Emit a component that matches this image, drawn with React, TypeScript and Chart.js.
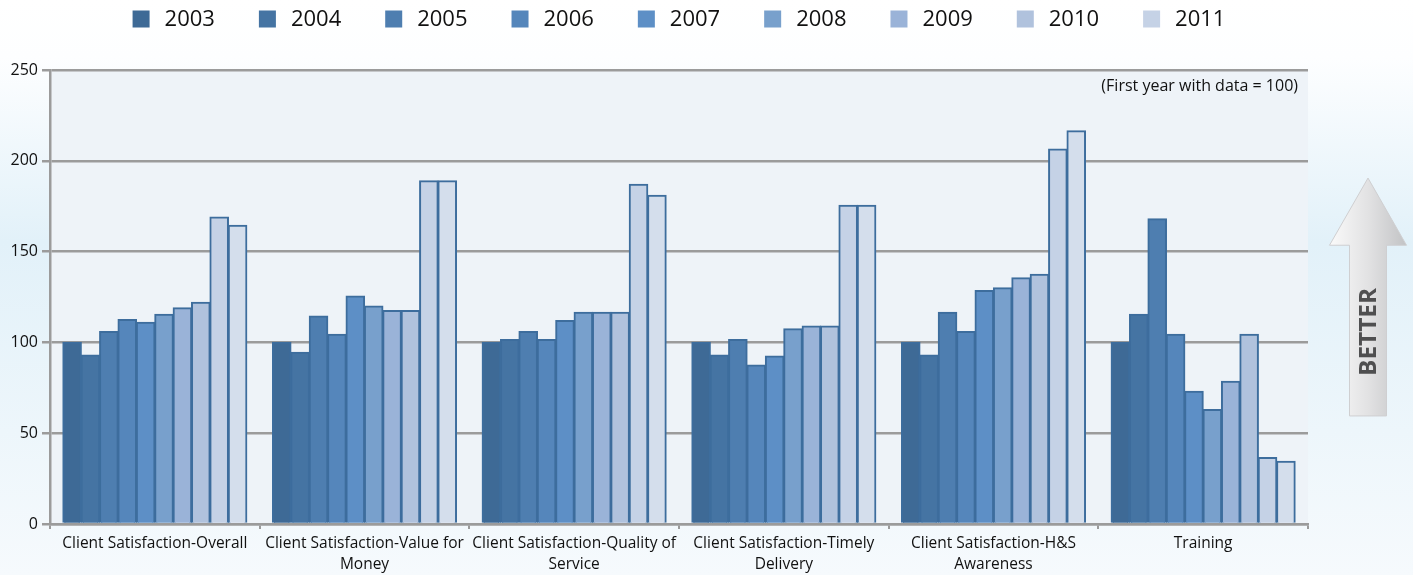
import React, { useEffect, useRef } from 'react';
import { Chart, registerables } from 'chart.js';

Chart.register(...registerables);

const categories: (string | string[])[] = [
  'Client Satisfaction-Overall',
  ['Client Satisfaction-Value for', 'Money'],
  ['Client Satisfaction-Quality of', 'Service'],
  ['Client Satisfaction-Timely', 'Delivery'],
  ['Client Satisfaction-H&S', 'Awareness'],
  'Training',
];

const seriesLabels = ['2003', '2004', '2005', '2006', '2007', '2008', '2009', '2010', '2011', '2012'];
const legendCount = 9;

const s2003 = [100, 100, 100, 100, 100, 100];
const s2004 = [93, 94.5, 101.5, 93, 93, 115.5];
const s2005 = [106, 114.5, 106, 101.5, 116.5, 168];
const s2006 = [112.5, 104.5, 101.5, 87.5, 106, 104.5];
const s2007 = [111, 125.5, 112, 92.5, 128.5, 73];
const s2008 = [115.5, 120, 116.5, 107.5, 130, 63];
const s2009 = [119, 117.5, 116.5, 109, 135.5, 78.5];
const s2010 = [122, 117.5, 116.5, 109, 137.5, 104.5];
const s2011 = [169, 189, 187, 175.5, 206.5, 36.5];
const s2012 = [164.5, 189, 181, 175.5, 216.5, 34.5];
const seriesValues = [s2003, s2004, s2005, s2006, s2007, s2008, s2009, s2010, s2011, s2012];

const seriesColors = ['#3E6A96', '#4574A3', '#4E7EB0', '#5586BB', '#5D8FC6', '#78A0CC', '#9AB3D8', '#B0C2DD', '#C5D2E6', '#D4DEEC'];

const yMin = 0;
const yMax = 250;
const yStep = 50;

const noteText = '(First year with data = 100)';
const arrowText = 'BETTER';

const FONT = '"Open Sans", "DejaVu Sans", sans-serif';

const decorPlugin = {
  id: 'decor',
  beforeDraw(chart: any) {
    const { ctx, width, height, chartArea } = chart;
    ctx.save();
    const g = ctx.createLinearGradient(0, 0, 0, height);
    g.addColorStop(0, '#FFFFFF');
    g.addColorStop(0.1, '#FDFEFF');
    g.addColorStop(0.42, '#E2F1F9');
    g.addColorStop(0.75, '#EDF6FB');
    g.addColorStop(1, '#F6FAFD');
    ctx.fillStyle = g;
    ctx.fillRect(0, 0, width, height);
    ctx.fillStyle = '#EEF3F8';
    ctx.fillRect(chartArea.left, chartArea.top, chartArea.right - chartArea.left, chartArea.bottom - chartArea.top);
    ctx.restore();
  },
  afterDraw(chart: any) {
    const { ctx, chartArea } = chart;
    ctx.save();
    // Legend
    ctx.font = `22px ${FONT}`;
    ctx.textBaseline = 'middle';
    ctx.textAlign = 'left';
    const box = 17;
    const gap = 15;
    const spacing = 44;
    const items = chart.data.datasets.slice(0, legendCount);
    const widths = items.map((d: any) => box + gap + ctx.measureText(d.label).width);
    const total = widths.reduce((a: number, b: number) => a + b, 0) + spacing * (items.length - 1);
    let x = (chartArea.left + chartArea.right) / 2 - total / 2;
    const cy = 19;
    items.forEach((d: any, i: number) => {
      ctx.fillStyle = d.backgroundColor;
      ctx.fillRect(x, cy - box / 2, box, box);
      ctx.fillStyle = '#111111';
      ctx.fillText(d.label, x + box + gap, cy + 1);
      x += widths[i] + spacing;
    });

    // Note
    ctx.font = `16px ${FONT}`;
    ctx.textAlign = 'right';
    ctx.fillStyle = '#111111';
    ctx.fillText(noteText, chartArea.right - 10, chartArea.top + 16);

    // Arrow
    const ys = chart.scales.y;
    const tipY = ys.getPixelForValue(190.5);
    const headY = ys.getPixelForValue(153.5);
    const botY = ys.getPixelForValue(59.5);
    const cx = chartArea.right + 60;
    const headHalf = 38.5;
    const shaftHalf = 18.5;
    ctx.beginPath();
    ctx.moveTo(cx, tipY);
    ctx.lineTo(cx + headHalf, headY);
    ctx.lineTo(cx + shaftHalf, headY);
    ctx.lineTo(cx + shaftHalf, botY);
    ctx.lineTo(cx - shaftHalf, botY);
    ctx.lineTo(cx - shaftHalf, headY);
    ctx.lineTo(cx - headHalf, headY);
    ctx.closePath();
    const ag = ctx.createLinearGradient(cx - headHalf, 0, cx + headHalf, 0);
    ag.addColorStop(0, '#FAFAFA');
    ag.addColorStop(0.5, '#E2E2E3');
    ag.addColorStop(1, '#C2C3C5');
    ctx.fillStyle = ag;
    ctx.fill();
    ctx.strokeStyle = '#CFCFD1';
    ctx.lineWidth = 1;
    ctx.stroke();

    // Arrow text
    const textCy = (ys.getPixelForValue(130) + ys.getPixelForValue(81.5)) / 2;
    ctx.translate(cx, textCy);
    ctx.rotate(-Math.PI / 2);
    ctx.font = `bold 23px ${FONT}`;
    const tw = ctx.measureText(arrowText).width;
    const targetW = 88;
    ctx.scale(targetW / tw, 1);
    ctx.textAlign = 'center';
    ctx.textBaseline = 'middle';
    ctx.fillStyle = '#4F4F50';
    ctx.fillText(arrowText, 0, 1);
    ctx.restore();
  },
};

export default function App() {
  const canvasRef = useRef<HTMLCanvasElement | null>(null);

  useEffect(() => {
    document.body.style.margin = '0';
    const canvas = canvasRef.current;
    if (!canvas) return;
    const chart = new Chart(canvas, {
      type: 'bar',
      data: {
        labels: categories as any,
        datasets: seriesLabels.map((label, i) => ({
          label,
          data: seriesValues[i],
          backgroundColor: seriesColors[i],
          borderColor: '#3D6D9D',
          borderWidth: 2,
          inflateAmount: 0.6,
          categoryPercentage: 0.877,
          barPercentage: 1.0,
        })),
      },
      options: {
        responsive: false,
        animation: false,
        devicePixelRatio: 1,
        layout: { padding: { top: 70, left: 8, right: 105, bottom: 0 } },
        plugins: {
          legend: { display: false },
          tooltip: { enabled: false },
          title: { display: false },
        },
        scales: {
          x: {
            grid: {
              display: true,
              drawOnChartArea: false,
              drawTicks: true,
              tickLength: 5,
              color: '#9B9B9B',
              lineWidth: 2,
              offset: true,
            },
            border: { display: true, color: '#9B9B9B', width: 2.5 },
            ticks: {
              autoSkip: false,
              maxRotation: 0,
              minRotation: 0,
              color: '#111111',
              padding: 5,
              font: { family: FONT, size: 15.5, lineHeight: 1.3 },
            },
            afterFit(scale: any) {
              scale.height = 51;
            },
          },
          y: {
            min: yMin,
            max: yMax,
            ticks: {
              stepSize: yStep,
              color: '#111111',
              padding: 4,
              font: { family: FONT, size: 16 },
            },
            grid: {
              color: '#9B9B9B',
              lineWidth: 2.5,
              drawTicks: true,
              tickLength: 8,
            },
            border: { display: true, color: '#9B9B9B', width: 2.5 },
            afterFit(scale: any) {
              scale.width = 42;
            },
          },
        },
      },
      plugins: [decorPlugin],
    });
    return () => chart.destroy();
  }, []);

  return (
    <div style={{ width: 1413, height: 575 }}>
      <canvas ref={canvasRef} width={1413} height={575} style={{ display: 'block', width: 1413, height: 575 }} />
    </div>
  );
}
